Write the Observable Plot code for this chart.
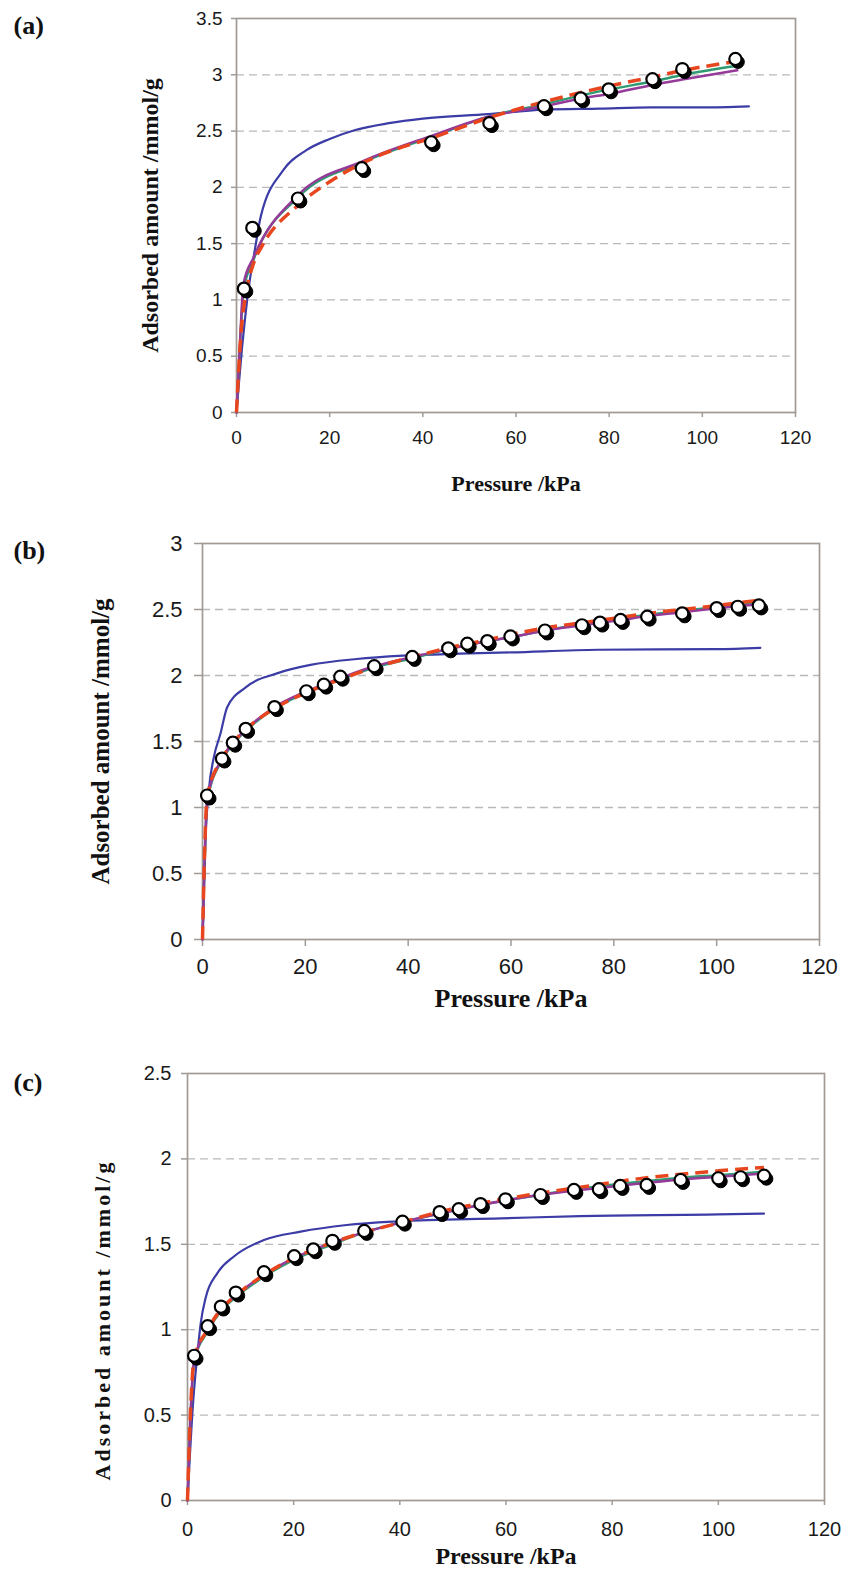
<!DOCTYPE html>
<html>
<head>
<meta charset="utf-8">
<script src="https://cdn.jsdelivr.net/npm/d3@7"></script>
<script src="https://cdn.jsdelivr.net/npm/@observablehq/plot@0.6"></script>
<style>
  html, body { margin: 0; padding: 0; background: #ffffff; }
  #figure { position: relative; width: 845px; height: 1573px; overflow: hidden; background: #ffffff; }
  .panel { position: absolute; left: 0; }
  .panel svg { overflow: visible; }
</style>
</head>
<body>
<div id="figure"></div>
<script>
// ---- Shared axis settings -------------------------------------------------
const xTicks = [0, 20, 40, 60, 80, 100, 120];
const xTitle = "Pressure /kPa";
const yTitle = "Adsorbed amount /mmol/g";
const panelLabels = ["(a)", "(b)", "(c)"];

// ---- Panel (a) ------------------------------------------------------------
const yTicksA = [0, 0.5, 1, 1.5, 2, 2.5, 3, 3.5];
const expA_P = [1.6, 3.4, 13.2, 26.9, 41.8, 54.3, 66.0, 73.9, 79.9, 89.3, 95.7, 107.1];
const expA_q = [1.10, 1.64, 1.90, 2.17, 2.40, 2.57, 2.72, 2.79, 2.87, 2.96, 3.05, 3.14];
const blueA_P = [0, 1.3, 2.6, 4.0, 5.2, 10, 15, 20, 25.5, 32.7, 40, 54, 66, 78, 89, 100, 110];
const blueA_q = [0, 0.62, 1.10, 1.46, 1.74, 2.15, 2.33, 2.43, 2.51, 2.57, 2.61, 2.65, 2.69, 2.70, 2.71, 2.71, 2.72];
const greenA_P = [0, 0.7, 1.5, 3.7, 13.2, 27, 42, 54.3, 66, 80, 89.3, 96, 107.5];
const greenA_q = [0, 0.55, 1.08, 1.36, 1.91, 2.22, 2.45, 2.63, 2.74, 2.87, 2.94, 3.00, 3.08];
const purpleA_P = [0, 0.7, 1.5, 3.7, 13.2, 27, 42, 54.3, 66, 74, 80, 89.3, 96, 107.5];
const purpleA_q = [0, 0.58, 1.14, 1.38, 1.93, 2.23, 2.46, 2.63, 2.72, 2.79, 2.83, 2.91, 2.96, 3.04];
const redA_P = [0, 1, 2, 3.7, 5.5, 13.2, 20, 31, 42, 54.3, 66, 80, 89.3, 96, 107.5];
const redA_q = [0, 0.72, 1.05, 1.33, 1.48, 1.84, 2.05, 2.29, 2.44, 2.62, 2.76, 2.90, 2.98, 3.04, 3.12];

// ---- Panel (b) ------------------------------------------------------------
const yTicksB = [0, 0.5, 1, 1.5, 2, 2.5, 3];
const expB_P = [0.9, 3.8, 5.9, 8.4, 14.0, 20.2, 23.6, 26.8, 33.4, 40.8, 47.8, 51.5, 55.4, 59.9, 66.6, 73.8, 77.3, 81.3, 86.5, 93.3, 100.0, 104.1, 108.2];
const expB_q = [1.09, 1.37, 1.49, 1.595, 1.76, 1.88, 1.93, 1.99, 2.07, 2.14, 2.205, 2.24, 2.26, 2.295, 2.34, 2.38, 2.40, 2.42, 2.445, 2.47, 2.51, 2.52, 2.53];
const blueB_P = [0, 0.5, 1.2, 2.2, 3.5, 4.8, 8.4, 14.8, 21, 30, 39, 50, 60, 77, 100, 108.5];
const blueB_q = [0, 0.70, 1.12, 1.38, 1.56, 1.76, 1.91, 2.02, 2.08, 2.125, 2.15, 2.165, 2.175, 2.195, 2.20, 2.21];
const fitB_P = [0, 0.3, 0.9, 3.8, 5.9, 8.4, 14, 20.2, 26.8, 33.4, 40.8, 47.8, 55.4, 59.9, 66.6, 73.8, 81.3, 86.5, 93.3, 100, 108.2];
const greenB_q = [0, 0.42, 1.04, 1.36, 1.48, 1.58, 1.75, 1.87, 1.97, 2.06, 2.13, 2.20, 2.26, 2.29, 2.34, 2.39, 2.43, 2.46, 2.49, 2.52, 2.55];
const purpleB_q = [0, 0.45, 1.06, 1.37, 1.49, 1.59, 1.76, 1.88, 1.98, 2.07, 2.14, 2.20, 2.26, 2.29, 2.34, 2.38, 2.42, 2.45, 2.48, 2.51, 2.54];
const redB_q = [0, 0.50, 1.08, 1.37, 1.49, 1.59, 1.75, 1.87, 1.97, 2.06, 2.14, 2.21, 2.27, 2.31, 2.36, 2.40, 2.44, 2.47, 2.50, 2.53, 2.57];

// ---- Panel (c) ------------------------------------------------------------
const yTicksC = [0, 0.5, 1, 1.5, 2, 2.5];
const expC_P = [1.25, 3.8, 6.3, 9.1, 14.4, 20.1, 23.7, 27.3, 33.3, 40.5, 47.5, 51.1, 55.2, 59.9, 66.5, 72.8, 77.5, 81.5, 86.5, 92.9, 100.0, 104.2, 108.6];
const expC_q = [0.847, 1.02, 1.135, 1.217, 1.336, 1.43, 1.47, 1.52, 1.578, 1.632, 1.688, 1.705, 1.735, 1.763, 1.788, 1.818, 1.822, 1.841, 1.847, 1.876, 1.886, 1.892, 1.901];
const blueC_P = [0, 1, 2, 2.5, 3.45, 5.6, 8.8, 14.4, 21.3, 30, 40, 59, 74, 100, 108.6];
const blueC_q = [0, 0.55, 0.90, 1.04, 1.19, 1.33, 1.43, 1.525, 1.574, 1.613, 1.635, 1.652, 1.665, 1.675, 1.68];
const fitC_P = [0, 0.5, 1.25, 3.8, 6.3, 9.1, 14.4, 20.1, 27.3, 33.3, 40.5, 47.5, 55.2, 66.5, 77.5, 86.5, 92.9, 100, 108.6];
const greenC_q = [0, 0.44, 0.81, 0.99, 1.11, 1.19, 1.31, 1.41, 1.50, 1.57, 1.63, 1.68, 1.73, 1.79, 1.84, 1.87, 1.89, 1.905, 1.925];
const purpleC_q = [0, 0.45, 0.82, 1.00, 1.12, 1.20, 1.32, 1.42, 1.51, 1.57, 1.63, 1.68, 1.73, 1.79, 1.83, 1.86, 1.88, 1.895, 1.915];
const redC_q = [0, 0.47, 0.83, 1.00, 1.12, 1.20, 1.32, 1.42, 1.51, 1.57, 1.63, 1.69, 1.74, 1.80, 1.85, 1.89, 1.91, 1.93, 1.95];

// ---- Series colours ---------------------------------------------------------
const colors = { blue: "#3c3ca6", green: "#2f9a72", purple: "#953a98", red: "#e8461e" };

const zip = (P, Q) => P.map((p, i) => ({ p, q: Q[i] }));

function drawPanel(cfg) {
  const serif = "'Liberation Serif', 'Times New Roman', serif";
  const sans = "'Liberation Sans', Arial, sans-serif";
  const frameColor = "#a19a94";
  const pts = zip(cfg.expP, cfg.expQ);
  const lineOpts = { x: "p", y: "q", curve: "monotone-x", strokeLinejoin: "round" };
  const svg = Plot.plot({
    width: 845,
    height: cfg.height,
    marginTop: cfg.margin[0],
    marginRight: cfg.margin[1],
    marginBottom: cfg.margin[2],
    marginLeft: cfg.margin[3],
    style: { background: "transparent", overflow: "visible" },
    x: { domain: [0, 120], axis: null },
    y: { domain: [0, cfg.yTicks[cfg.yTicks.length - 1]], axis: null },
    marks: [
      Plot.gridY(cfg.yTicks.slice(1, -1), { stroke: "#b9b9b9", strokeOpacity: 1, strokeWidth: 1.3, strokeDasharray: "8,5" }),
      Plot.frame({ stroke: frameColor, strokeWidth: 1.7 }),
      Plot.axisY(cfg.yTicks, {
        tickSize: cfg.yTick[0], tickPadding: cfg.yTick[1], stroke: frameColor, strokeWidth: 1.5,
        tickFormat: d => String(d), fontSize: cfg.tickFont, fontFamily: sans, fill: "#1a1a1a", label: null
      }),
      Plot.axisX(xTicks, {
        tickSize: cfg.xTick[0], tickPadding: cfg.xTick[1], stroke: frameColor, strokeWidth: 1.5,
        tickFormat: d => String(d), fontSize: cfg.tickFont, fontFamily: sans, fill: "#1a1a1a", label: null
      }),
      Plot.line(zip(cfg.blueP, cfg.blueQ), { ...lineOpts, stroke: colors.blue, strokeWidth: 2.2 }),
      Plot.line(zip(cfg.greenP, cfg.greenQ), { ...lineOpts, stroke: colors.green, strokeWidth: 2.4 }),
      Plot.line(zip(cfg.purpleP, cfg.purpleQ), { ...lineOpts, stroke: colors.purple, strokeWidth: 2.5 }),
      Plot.line(zip(cfg.redP, cfg.redQ), { ...lineOpts, stroke: colors.red, strokeWidth: 3.5, strokeDasharray: "13,7", strokeLinecap: "butt" }),
      // measured points: dark drop shadow under an open white circle
      Plot.dot(pts, { x: "p", y: "q", r: 6.4, fill: "#000", stroke: "#000", strokeWidth: 1, dx: 2.5, dy: 3 }),
      Plot.dot(pts, { x: "p", y: "q", r: 6.1, fill: "#fff", stroke: "#000", strokeWidth: 2.2 }),
      Plot.text([xTitle], {
        frameAnchor: "bottom", dy: cfg.xTitleDy, lineAnchor: "middle", textAnchor: "middle",
        fontSize: cfg.xTitleFont, fontWeight: "bold", fontFamily: serif, fill: "#111"
      }),
      Plot.text([yTitle], {
        frameAnchor: "left", dx: cfg.yTitleDx, dy: cfg.yTitleDy, rotate: -90,
        textAnchor: "middle", lineAnchor: "middle",
        fontSize: cfg.yTitleFont, fontWeight: "bold", fontFamily: serif, fill: "#111"
      }),
      Plot.text([cfg.label], {
        frameAnchor: "top-left", dx: 13 - cfg.margin[3], dy: cfg.labelDy, textAnchor: "start", lineAnchor: "middle",
        fontSize: 26, fontWeight: "bold", fontFamily: serif, fill: "#111"
      })
    ]
  });
  if (cfg.yTitleSpacing) {
    d3.select(svg).selectAll("text")
      .filter(function () { return this.textContent === yTitle; })
      .attr("letter-spacing", cfg.yTitleSpacing);
  }
  const holder = document.createElement("div");
  holder.className = "panel";
  holder.style.top = cfg.top + "px";
  holder.appendChild(svg);
  document.getElementById("figure").appendChild(holder);
}

drawPanel({
  label: panelLabels[0], top: 0, height: 505, margin: [18, 50, 93, 236],
  yTicks: yTicksA, tickFont: 19, yTick: [5, 9], xTick: [5, 13],
  xTitleDy: 71, xTitleFont: 22, yTitleDx: -86, yTitleDy: 0, yTitleFont: 24, labelDy: 7,
  expP: expA_P, expQ: expA_q,
  blueP: blueA_P, blueQ: blueA_q, greenP: greenA_P, greenQ: greenA_q,
  purpleP: purpleA_P, purpleQ: purpleA_q, redP: redA_P, redQ: redA_q
});

drawPanel({
  label: panelLabels[1], top: 505, height: 515, margin: [38, 26, 81, 202],
  yTicks: yTicksB, tickFont: 22, yTick: [8, 12], xTick: [7, 12],
  xTitleDy: 59, xTitleFont: 26, yTitleDx: -102, yTitleDy: 0, yTitleFont: 25, labelDy: 7,
  expP: expB_P, expQ: expB_q,
  blueP: blueB_P, blueQ: blueB_q, greenP: fitB_P, greenQ: greenB_q,
  purpleP: fitB_P, purpleQ: purpleB_q, redP: fitB_P, redQ: redB_q
});

drawPanel({
  label: panelLabels[2], top: 1020, height: 553, margin: [53, 21, 73, 187],
  yTicks: yTicksC, tickFont: 20, yTick: [6, 10], xTick: [5, 16],
  xTitleDy: 56, xTitleFont: 24, yTitleDx: -85, yTitleDy: 33, yTitleFont: 22, yTitleSpacing: 3, labelDy: 9,
  expP: expC_P, expQ: expC_q,
  blueP: blueC_P, blueQ: blueC_q, greenP: fitC_P, greenQ: greenC_q,
  purpleP: fitC_P, purpleQ: purpleC_q, redP: fitC_P, redQ: redC_q
});
</script>
</body>
</html>
